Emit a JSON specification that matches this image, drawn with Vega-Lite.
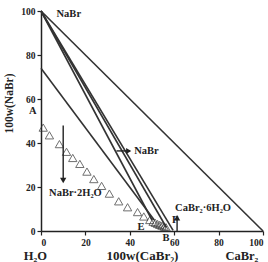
{
  "$schema": "https://vega.github.io/schema/vega-lite/v6.json",
  "width": 222,
  "height": 220,
  "autosize": "none",
  "padding": {"left": 41, "top": 11, "right": 5, "bottom": 31},
  "config": {
    "view": {"stroke": null},
    "font": "Liberation Serif",
    "text": {"font": "Liberation Serif", "fontWeight": "bold", "color": "#222"},
    "axis": {
      "grid": false,
      "domainColor": "#222",
      "domainWidth": 1.5,
      "tickColor": "#222",
      "tickWidth": 1.2,
      "tickSize": 4,
      "labelFont": "Liberation Serif",
      "labelFontWeight": "bold",
      "labelFontSize": 9.5,
      "labelColor": "#222",
      "labelPadding": 2,
      "titleFont": "Liberation Serif",
      "titleFontWeight": "bold",
      "titleColor": "#222"
    }
  },
  "layer": [
    {
      "data": {"values": [
        {"id": "a", "o": 0, "x": 0, "y": 100}, {"id": "a", "o": 1, "x": 100, "y": 0},
        {"id": "b", "o": 0, "x": 0, "y": 100}, {"id": "b", "o": 1, "x": 50, "y": 5},
        {"id": "c", "o": 0, "x": 0, "y": 100}, {"id": "c", "o": 1, "x": 56.5, "y": 1.6},
        {"id": "d", "o": 0, "x": 0, "y": 100}, {"id": "d", "o": 1, "x": 59.5, "y": 0.3},
        {"id": "e", "o": 0, "x": 0, "y": 74}, {"id": "e", "o": 1, "x": 51, "y": 5}
      ]},
      "mark": {"type": "line", "color": "#333", "strokeWidth": 1.6},
      "encoding": {
        "x": {"field": "x", "type": "quantitative", "scale": {"domain": [0, 100], "nice": false},
          "axis": {"title": "100w(CaBr₂)", "values": [0,10,20,30,40,50,60,70,80,90,100],
            "labelExpr": "datum.value % 20 == 0 ? datum.label : ''",
            "titleFontSize": 13, "titleX": 101, "titleY": 18, "titleBaseline": "top"}},
        "y": {"field": "y", "type": "quantitative", "scale": {"domain": [0, 100], "nice": false},
          "axis": {"title": "100w(NaBr)", "values": [0,10,20,30,40,50,60,70,80,90,100],
            "labelExpr": "datum.value % 20 == 0 ? datum.label : ''",
            "titleFontSize": 11.5, "titleX": -27, "titleY": 92}},
        "detail": {"field": "id"},
        "order": {"field": "o"}
      }
    },
    {
      "data": {"values": [
        {"x": 1, "y": 47}, {"x": 3.8, "y": 43.5}, {"x": 8.3, "y": 39.5}, {"x": 11.5, "y": 36},
        {"x": 14.3, "y": 33.2}, {"x": 17.5, "y": 30.5}, {"x": 20.7, "y": 27}, {"x": 23.8, "y": 23.6},
        {"x": 27.3, "y": 20.5}, {"x": 30.8, "y": 17}, {"x": 35, "y": 13.5}, {"x": 39, "y": 10.8},
        {"x": 43.5, "y": 8.6}, {"x": 46.3, "y": 6.6}, {"x": 49, "y": 5},
        {"x": 50.5, "y": 4.2}, {"x": 51.5, "y": 3.7}, {"x": 52.5, "y": 3.2}, {"x": 53.5, "y": 2.8},
        {"x": 54.5, "y": 2.4}, {"x": 55.5, "y": 2}, {"x": 56.3, "y": 1.7}
      ]},
      "mark": {"type": "point", "shape": "triangle-up", "filled": false, "size": 70, "stroke": "#333", "strokeWidth": 1},
      "encoding": {
        "x": {"field": "x", "type": "quantitative"},
        "y": {"field": "y", "type": "quantitative"}
      }
    },
    {
      "data": {"values": [
        {"id": "n2", "o": 0, "x": 10, "y": 48}, {"id": "n2", "o": 1, "x": 10, "y": 23},
        {"id": "cb", "o": 0, "x": 61.3, "y": 0}, {"id": "cb", "o": 1, "x": 61.3, "y": 6},
        {"id": "nb", "o": 0, "x": 34, "y": 36.4}, {"id": "nb", "o": 1, "x": 40, "y": 36.4}
      ]},
      "mark": {"type": "line", "color": "#222", "strokeWidth": 1.4},
      "encoding": {
        "x": {"field": "x", "type": "quantitative"},
        "y": {"field": "y", "type": "quantitative"},
        "detail": {"field": "id"},
        "order": {"field": "o"}
      }
    },
    {
      "data": {"values": [{"x": 10, "y": 23}]},
      "mark": {"type": "point", "shape": "triangle-down", "filled": true, "size": 40, "color": "#222", "opacity": 1},
      "encoding": {"x": {"field": "x", "type": "quantitative"}, "y": {"field": "y", "type": "quantitative"}}
    },
    {
      "data": {"values": [{"x": 61.3, "y": 6}]},
      "mark": {"type": "point", "shape": "triangle-up", "filled": true, "size": 40, "color": "#222", "opacity": 1},
      "encoding": {"x": {"field": "x", "type": "quantitative"}, "y": {"field": "y", "type": "quantitative"}}
    },
    {
      "data": {"values": [{"x": 39.5, "y": 36.4}]},
      "mark": {"type": "point", "shape": "triangle-right", "filled": true, "size": 35, "color": "#222", "opacity": 1},
      "encoding": {"x": {"field": "x", "type": "quantitative"}, "y": {"field": "y", "type": "quantitative"}}
    },
    {
      "data": {"values": [
        {"t": "NaBr", "x": 7, "y": 98.5},
        {"t": "NaBr", "x": 42, "y": 36.4},
        {"t": "CaBr₂·6H₂O", "x": 60.4, "y": 10.5},
        {"t": "F", "x": 59, "y": 4.8}
      ]},
      "mark": {"type": "text", "align": "left", "baseline": "middle", "fontSize": 10.5},
      "encoding": {"x": {"field": "x", "type": "quantitative"}, "y": {"field": "y", "type": "quantitative"}, "text": {"field": "t"}}
    },
    {
      "data": {"values": [
        {"t": "NaBr·2H₂O", "x": 15.5, "y": 17.3},
        {"t": "E", "x": 45, "y": 2},
        {"t": "A", "x": -3.7, "y": 54.5},
        {"t": "B", "x": 56.3, "y": -3.3}
      ]},
      "mark": {"type": "text", "align": "center", "baseline": "middle", "fontSize": 10.5},
      "encoding": {"x": {"field": "x", "type": "quantitative"}, "y": {"field": "y", "type": "quantitative"}, "text": {"field": "t"}}
    },
    {
      "data": {"values": [
        {"t": "H₂O", "x": -2.5, "y": -11.5},
        {"t": "CaBr₂", "x": 90.5, "y": -11.5}
      ]},
      "mark": {"type": "text", "align": "center", "baseline": "middle", "fontSize": 12.5},
      "encoding": {"x": {"field": "x", "type": "quantitative"}, "y": {"field": "y", "type": "quantitative"}, "text": {"field": "t"}}
    }
  ]
}
